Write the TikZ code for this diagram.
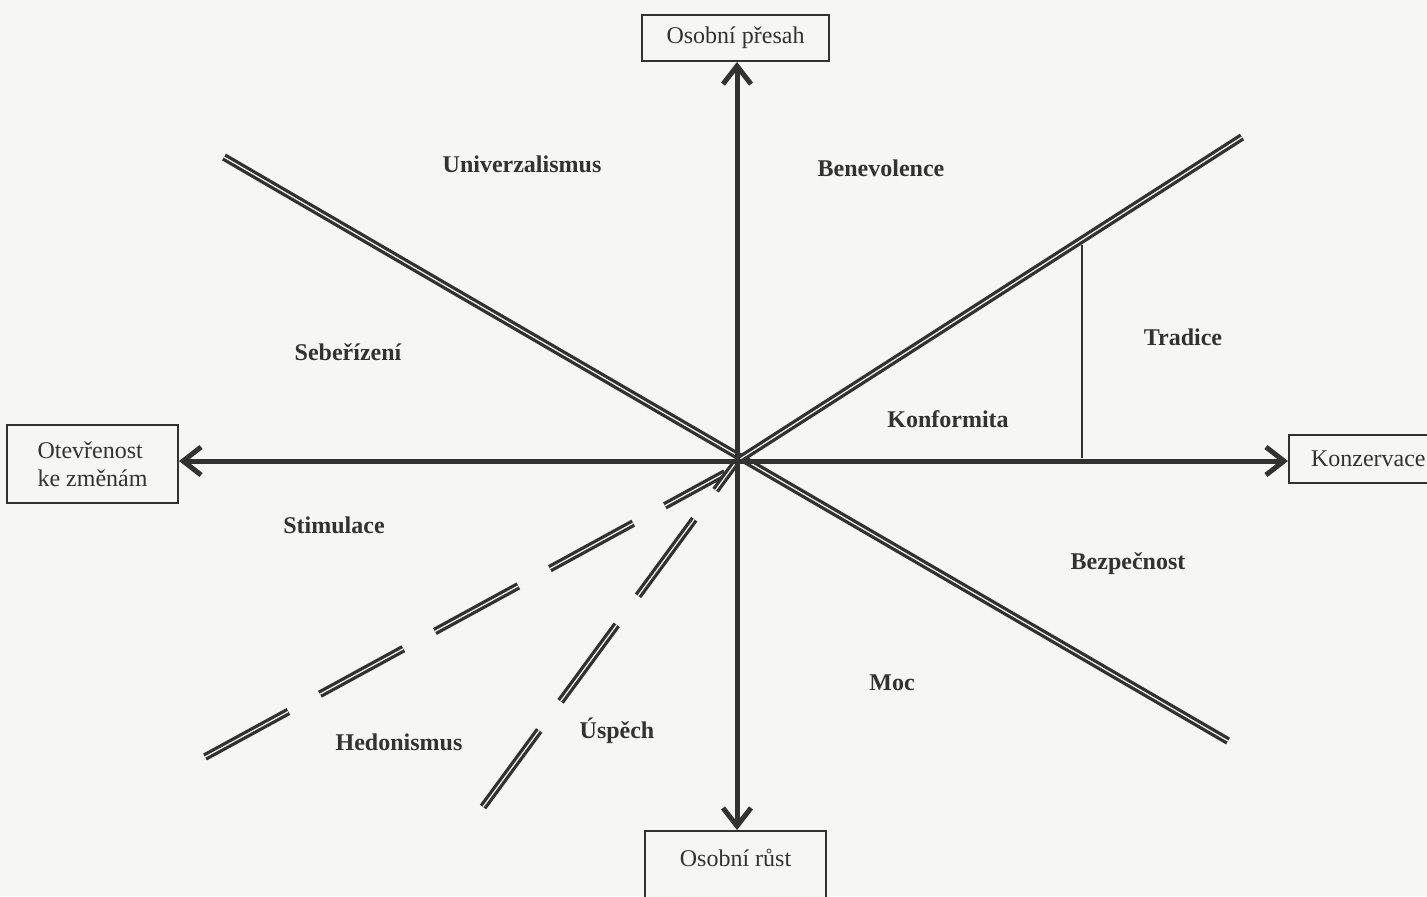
\documentclass[tikz,border=0pt]{standalone}
\usepackage{fontspec}
\setmainfont{Liberation Serif}
\usetikzlibrary{arrows.meta}
\definecolor{ink}{RGB}{50,50,50}
\definecolor{paper}{RGB}{246,246,244}
\tikzset{>={Straight Barb[length=9pt,width=14pt]},
  axis/.style={->, ink, line width=2.5pt},
  dbl/.style={ink, line width=1.65pt, double=paper, double distance=0.6pt},
  dashdbl/.style={dbl, dash pattern=on 47.5pt off 18pt},
  valbox/.style={draw=ink, line width=1pt, fill=paper, text=ink,
    font=\fontsize{12}{14}\selectfont},
  val/.style={text=ink, font=\fontsize{12}{14}\selectfont\bfseries}}

\begin{document}
\begin{tikzpicture}[x=0.5pt,y=-0.5pt]
    \fill[paper] (0,0) rectangle (1427,896);
    \useasboundingbox (0,0) rectangle (1427,896);
    \coordinate (O) at (737,461);
    % poles
    \node[valbox, minimum width=93.5pt, minimum height=23pt] (presah) at (735.5,38) {Osobní přesah};
    \node[valbox, minimum width=90.5pt, anchor=north, inner ysep=5pt,
      text height=12.5pt, text depth=12.5pt] (rust) at (735.5,830) {Osobní růst};
    \node[valbox, minimum width=85.5pt, minimum height=39pt, align=left] (otev) at (92.5,464) {Otevřenost\\ke změnám};
    \node[valbox, inner xsep=11pt, minimum height=24pt, anchor=west] (konz) at (1288,459) {Konzervace};
    % dividing lines
    \coordinate (uL) at (224,157);
    \coordinate (bR) at (1228,741);
    \coordinate (tR) at (1242,137);
    \coordinate (hL) at (205,757);
    \coordinate (hE) at (725,473);
    \coordinate (sL) at (483,807);
    \draw[dbl] (uL) -- (bR);
    \draw[dbl] (O) -- (tR);
    \draw[dashdbl] (hL) -- (hE);
    \draw[dashdbl] (sL) -- (O);
    \coordinate (t1) at (1082,245);
    \coordinate (t2) at (1082,458);
    \draw[ink, line width=1pt] (t1) -- (t2);
    % axes
    \draw[axis] (O) -- (presah.south -| O);
    \draw[axis] (O) -- (rust.north -| O);
    \draw[axis] (O) -- (otev.east |- O);
    \draw[axis] (O) -- (konz.west |- O);
    % values
    \node[val] (univ) at (522,164) {Univerzalismus};
    \node[val] (bene) at (881,168) {Benevolence};
    \node[val] (sebe) at (348,352) {Sebeřízení};
    \node[val] (trad) at (1183,337) {Tradice};
    \node[val] (konf) at (948,419) {Konformita};
    \node[val] (stim) at (334,525) {Stimulace};
    \node[val] (bezp) at (1128,564) {Bezpečnost};
    \node[val] (moc) at (892,683) {Moc};
    \node[val] (hedo) at (399,742) {Hedonismus};
    \node[val] (uspe) at (617,731) {Úspěch};
\end{tikzpicture}
\end{document}
